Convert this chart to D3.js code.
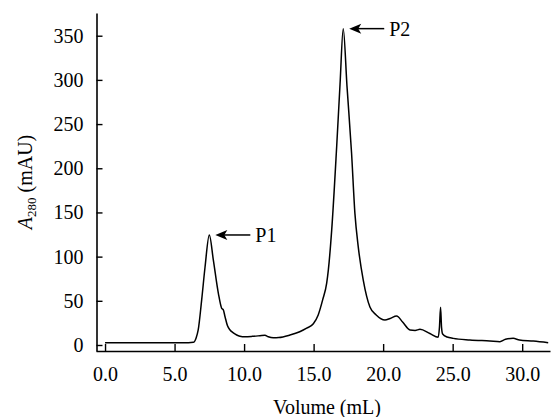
<!DOCTYPE html>
<html>
<head>
<meta charset="utf-8">
<script src="https://cdn.jsdelivr.net/npm/d3@7"></script>
<style>
  body { margin: 0; background: #fff; }
</style>
</head>
<body>
<svg id="chart" width="554" height="417"></svg>
<script>
// elution volume (mL) and absorbance at 280 nm (mAU)
var volume = [0, 6.0, 6.35, 6.55, 6.7, 6.95, 7.19, 7.5, 7.79, 8.15, 8.39, 8.5, 8.63, 8.8, 8.99,
    9.2, 9.47, 9.7, 10.06, 10.6, 11.14, 11.5, 11.74, 12.1, 12.5, 13.3, 14.0, 14.5, 14.98,
    15.33, 15.65, 15.94, 16.06, 16.3, 16.66, 16.9, 17.13, 17.4, 17.73, 17.97, 18.21, 18.57,
    19.05, 19.5, 20.13, 20.5, 20.97, 21.4, 21.93, 22.3, 22.65, 23.36, 23.96, 24.05, 24.13,
    24.2, 24.28, 24.6, 25.04, 26.24, 27.68, 28.4, 28.8, 29.35, 29.8, 30.8, 31.87];
var a280 = [2.6, 2.6, 3, 8, 17, 51, 88, 124.5, 96, 58.5, 41.5, 40, 32, 22, 17,
    14, 11.3, 10, 9.4, 9.8, 10.5, 11, 9.4, 8.3, 8.5, 11.3, 15, 19, 24,
    34, 51, 70, 85, 130, 225, 295, 358, 293, 217, 149, 111, 73.5,
    43, 34, 28.3, 30, 32.8, 26, 17, 16.5, 17.7, 13, 8.7, 20, 42.7,
    20, 12.4, 9, 7.5, 5.7, 4.5, 3.8, 6.4, 7.5, 5.7, 4.5, 2.6];

var xTicks = [0, 5, 10, 15, 20, 25, 30];
var yTicks = [0, 50, 100, 150, 200, 250, 300, 350];

var peakLabels = ["P1", "P2"];
var peakVolume = [7.5, 17.13];
var peakValue = [124.5, 358];

var FONT = "Liberation Serif";

var svg = d3.select("#chart");

var x = d3.scaleLinear().domain([-0.65, 32.0]).range([96, 550]);
var y = d3.scaleLinear().domain([-6.8, 375.7]).range([351, 13]);

var data = volume.map(function (v, i) { return { v: v, a: a280[i] }; });

// axes
var xAxis = svg.append("g")
    .attr("transform", "translate(0,351)")
    .call(d3.axisBottom(x).tickValues(xTicks).tickFormat(d3.format(".1f"))
        .tickSizeInner(-7).tickSizeOuter(0).tickPadding(16));

var yAxis = svg.append("g")
    .attr("transform", "translate(96.5,0)")
    .call(d3.axisLeft(y).tickValues(yTicks).tickFormat(d3.format("d"))
        .tickSizeInner(-6).tickSizeOuter(0).tickPadding(13));

[xAxis, yAxis].forEach(function (g) {
    g.attr("font-family", FONT).attr("font-size", 20);
    g.select(".domain").attr("stroke", "#000").attr("stroke-width", 1.6);
    g.selectAll(".tick line").attr("stroke", "#000").attr("stroke-width", 1.4);
    g.selectAll(".tick text").attr("fill", "#000");
});

// trace
var line = d3.line()
    .x(function (d) { return x(d.v); })
    .y(function (d) { return y(d.a); })
    .curve(d3.curveMonotoneX);

svg.append("path")
    .datum(data)
    .attr("fill", "none")
    .attr("stroke", "#000")
    .attr("stroke-width", 1.5)
    .attr("stroke-linejoin", "round")
    .attr("d", line);

// peak arrows
peakLabels.forEach(function (lab, i) {
    var tx = x(peakVolume[i]) + 6;
    var ty = y(peakValue[i]);
    svg.append("line")
        .attr("x1", tx + 8).attr("y1", ty)
        .attr("x2", tx + 35).attr("y2", ty)
        .attr("stroke", "#000").attr("stroke-width", 1.5);
    svg.append("path")
        .attr("d", "M" + tx + "," + ty + " L" + (tx + 12) + "," + (ty - 5) +
            " L" + (tx + 9) + "," + ty + " L" + (tx + 12) + "," + (ty + 5) + " Z")
        .attr("fill", "#000");
    svg.append("text")
        .attr("x", tx + 40).attr("y", ty + 7)
        .attr("font-family", FONT).attr("font-size", 20)
        .text(lab);
});

// axis titles
svg.append("text")
    .attr("x", 327).attr("y", 414)
    .attr("text-anchor", "middle")
    .attr("font-family", FONT).attr("font-size", 20)
    .text("Volume (mL)");

var yt = svg.append("text")
    .attr("transform", "translate(32,182) rotate(-90)")
    .attr("text-anchor", "middle")
    .attr("font-family", FONT).attr("font-size", 20);
yt.append("tspan").attr("font-style", "italic").text("A");
yt.append("tspan").attr("dy", 4).attr("font-size", 13).text("280");
yt.append("tspan").attr("dy", -4).text(" (mAU)");
</script>
</body>
</html>
